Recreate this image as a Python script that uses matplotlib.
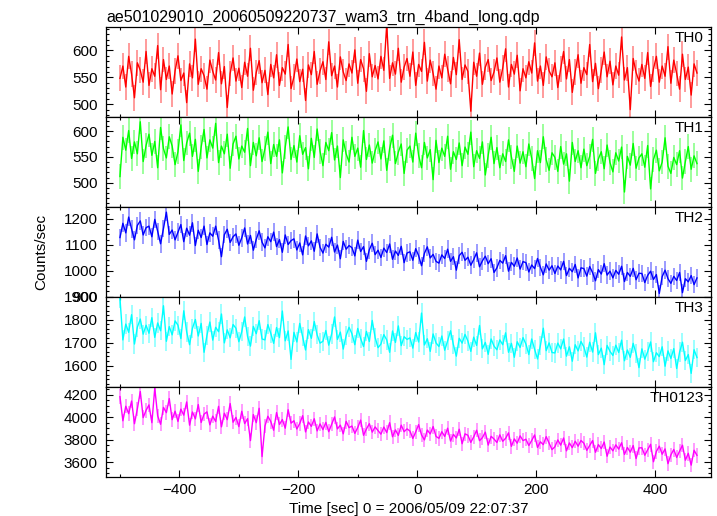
import numpy as np
import matplotlib
matplotlib.use("Agg")
import matplotlib.pyplot as plt
from matplotlib.ticker import MultipleLocator

plt.rcParams['font.family'] = ['Liberation Sans', 'DejaVu Sans']

title = "ae501029010_20060509220737_wam3_trn_4band_long.qdp"
xlabel = "Time [sec] 0 = 2006/05/09 22:07:37"
ylabel = "Counts/sec"
band_names = ["TH0", "TH1", "TH2", "TH3", "TH0123"]
band_colors = ["#ff0000", "#00ff00", "#0000ff", "#00ffff", "#ff00ff"]
band_errors = [24, 24, 34, 42, 64]   # typical 1-sigma error bar per band

# time bins
t_start = -500.0
t_step = 4.874
n_bins = 200

th0 = [
    548, 571, 532, 589, 556, 512, 577, 563, 541, 598,
    535, 566, 552, 609, 527, 583, 546, 571, 519, 562,
    590, 544, 558, 503, 575, 549, 621, 537, 566, 553,
    528, 582, 561, 545, 596, 538, 570, 494, 557, 586,
    543, 567, 531, 578, 552, 604, 526, 559, 581, 540,
    563, 518, 574, 549, 592, 535, 568, 556, 611, 529,
    551, 584, 542, 565, 507, 573, 555, 598, 537, 562,
    579, 546, 616, 553, 571, 532, 588, 560, 544, 575,
    558, 601, 539, 583, 566, 524, 594, 551, 572, 547,
    589, 563, 648, 548, 577, 556, 604, 541, 569, 585,
    552, 597, 535, 574, 561, 615, 543, 582, 557, 528,
    571, 549, 593, 566, 538, 587, 555, 620, 546, 573,
    561, 487, 578, 552, 595, 537, 569, 583, 544, 560,
    586, 541, 567, 603, 532, 574, 556, 591, 525, 566,
    549, 579, 558, 614, 543, 571, 535, 588, 562, 551,
    577, 531, 566, 598, 547, 583, 522, 560, 592, 539,
    568, 555, 611, 542, 576, 529, 563, 597, 551, 580,
    536, 571, 554, 625, 545, 568, 490, 585, 559, 543,
    574, 548, 596, 533, 566, 589, 541, 571, 552, 607,
    539, 582, 557, 528, 593, 546, 569, 517, 575, 558,
]

th1 = [
    512, 588, 563, 601, 547, 579, 556, 618, 541, 572,
    594, 553, 580, 529, 607, 566, 548, 589, 571, 535,
    560, 612, 543, 577, 596, 551, 584, 522, 569, 603,
    548, 583, 567, 615, 539, 571, 556, 594, 528, 575,
    590, 546, 571, 559, 605, 533, 578, 552, 587, 541,
    566, 598, 537, 574, 551, 583, 519, 569, 608, 545,
    572, 540, 591, 555, 568, 527, 586, 549, 604, 561,
    533, 578, 562, 597, 544, 571, 510, 583, 556, 540,
    588, 551, 567, 530, 601, 545, 573, 538, 562, 579,
    546, 581, 524, 566, 592, 537, 559, 575, 518, 563,
    571, 540, 596, 553, 529, 578, 548, 564, 506, 582,
    539, 567, 551, 590, 526, 560, 545, 577, 533, 569,
    555, 598, 531, 562, 547, 579, 515, 553, 588, 537,
    568, 529, 556, 541, 583, 550, 522, 571, 538, 560,
    531, 575, 547, 508, 562, 539, 589, 545, 524, 558,
    549, 522, 570, 536, 556, 503, 578, 541, 562, 529,
    565, 533, 551, 584, 518, 546, 560, 527, 573, 539,
    521, 558, 542, 569, 482, 551, 534, 576, 528, 548,
    556, 530, 572, 488, 545, 563, 523, 540, 587, 532,
    518, 549, 535, 562, 509, 541, 570, 526, 552, 537,
]

th2 = [
    1128, 1183, 1146, 1207, 1161, 1119, 1175, 1192, 1138, 1166,
    1172, 1131, 1198, 1152, 1104, 1163, 1226, 1140, 1157, 1119,
    1149, 1178, 1112, 1164, 1137, 1185, 1097, 1156, 1128, 1172,
    1101, 1146, 1133, 1172, 1118, 1054, 1139, 1160, 1109, 1131,
    1142, 1098, 1127, 1165, 1103, 1136, 1079, 1121, 1154, 1110,
    1088, 1131, 1112, 1149, 1093, 1120, 1071, 1138, 1101, 1116,
    1123, 1080, 1107, 1061, 1134, 1096, 1115, 1075, 1142, 1090,
    1068, 1102, 1091, 1129, 1072, 1099, 1046, 1113, 1083, 1097,
    1089, 1057, 1118, 1074, 1093, 1036, 1081, 1106, 1062, 1079,
    1051, 1087, 1070, 1103, 1044, 1076, 1059, 1094, 1031, 1068,
    1073, 1040, 1085, 1058, 1019, 1067, 1092, 1049, 1063, 1036,
    1029, 1061, 1047, 1083, 1036, 1054, 1002, 1058, 1071, 1040,
    1052, 1021, 1043, 1069, 1015, 1038, 1056, 1027, 1046, 993,
    1011, 1040, 1029, 1058, 998, 1032, 1017, 1049, 1006, 1035,
    1031, 995, 1022, 1008, 1047, 1013, 984, 1026, 1002, 1019,
    989, 1018, 1003, 1036, 981, 1009, 996, 1024, 972, 1011,
    1008, 979, 1016, 992, 961, 1004, 987, 1027, 983, 998,
    972, 1001, 986, 1017, 958, 993, 978, 1009, 965, 990,
    989, 954, 982, 998, 966, 985, 912, 977, 1002, 969,
    951, 978, 962, 993, 915, 969, 957, 981, 946, 972,
]

th3 = [
    1893, 1712, 1781, 1745, 1822, 1694, 1768, 1803, 1737, 1776,
    1741, 1809, 1723, 1786, 1752, 1861, 1706, 1770, 1734, 1795,
    1776, 1718, 1839, 1747, 1691, 1763, 1801, 1729, 1784, 1658,
    1732, 1790, 1711, 1767, 1748, 1825, 1699, 1756, 1721, 1779,
    1763, 1704, 1748, 1812, 1727, 1685, 1771, 1739, 1796, 1716,
    1712, 1779, 1741, 1697, 1766, 1722, 1838, 1708, 1751, 1627,
    1745, 1703, 1784, 1726, 1668, 1757, 1719, 1792, 1734, 1698,
    1706, 1753, 1689, 1738, 1812, 1714, 1746, 1672, 1731, 1767,
    1739, 1691, 1762, 1718, 1683, 1749, 1705, 1797, 1722, 1678,
    1694, 1735, 1712, 1658, 1751, 1701, 1773, 1687, 1726, 1714,
    1721, 1676, 1744, 1703, 1829, 1690, 1717, 1662, 1738, 1699,
    1683, 1729, 1667, 1708, 1752, 1691, 1641, 1719, 1698, 1736,
    1707, 1662, 1724, 1688, 1775, 1673, 1701, 1649, 1716, 1685,
    1669, 1712, 1691, 1743, 1658, 1697, 1636, 1704, 1679, 1722,
    1694, 1648, 1716, 1671, 1629, 1688, 1763, 1665, 1699, 1657,
    1655, 1698, 1673, 1716, 1641, 1682, 1619, 1691, 1664, 1705,
    1681, 1637, 1702, 1659, 1743, 1648, 1676, 1604, 1688, 1662,
    1644, 1689, 1657, 1711, 1621, 1668, 1636, 1697, 1652, 1591,
    1673, 1628, 1661, 1703, 1617, 1656, 1639, 1682, 1597, 1664,
    1631, 1674, 1587, 1659, 1702, 1622, 1648, 1566, 1669, 1635,
]

th0123 = [
    4182, 3968, 4097, 4031, 4143, 3942, 4075, 4228, 3996, 4061,
    4109, 3951, 4258, 4012, 3937, 4087, 4040, 4165, 3978, 4053,
    3962, 4071, 4018, 4135, 3929, 4046, 3985, 4112, 3953, 4027,
    4047, 3932, 4009, 3961, 4096, 3914, 4035, 3978, 4121, 3955,
    3998, 3916, 4052, 3943, 3987, 3792, 4023, 3951, 4079, 3650,
    3921, 4008, 3962, 3884, 4041, 3935, 3979, 3902, 4066, 3947,
    3968, 3895, 3944, 4013, 3869, 3957, 3918, 3986, 3878, 3940,
    3889, 3954, 3871, 3937, 4002, 3896, 3929, 3852, 3963, 3907,
    3921, 3856, 3908, 3974, 3839, 3895, 3942, 3867, 3913, 3881,
    3849, 3912, 3863, 3951, 3826, 3887, 3838, 3929, 3871, 3896,
    3877, 3811, 3869, 3934, 3842, 3798, 3886, 3851, 3917, 3829,
    3812, 3871, 3829, 3902, 3788, 3847, 3815, 3893, 3764, 3852,
    3839, 3776, 3825, 3884, 3791, 3818, 3867, 3752, 3830, 3806,
    3775, 3843, 3786, 3812, 3861, 3741, 3807, 3769, 3834, 3792,
    3804, 3748, 3793, 3842, 3731, 3781, 3756, 3827, 3769, 3712,
    3737, 3798, 3752, 3815, 3701, 3771, 3729, 3786, 3742, 3793,
    3768, 3705, 3749, 3792, 3688, 3756, 3721, 3779, 3653, 3735,
    3701, 3754, 3716, 3773, 3669, 3731, 3689, 3748, 3632, 3727,
    3728, 3662, 3711, 3759, 3604, 3696, 3742, 3671, 3718, 3587,
    3665, 3713, 3642, 3698, 3751, 3618, 3679, 3574, 3706, 3661,
]

series = [th0, th1, th2, th3, th0123]
ylims = [(476, 643), (453, 627), (899, 1246), (1508, 1900), (3473, 4271)]
ymajor = [50, 50, 100, 100, 200]
yminor = [10, 10, 20, 20, 50]
xlim = (-523.5, 493.5)

time = t_start + t_step * np.arange(n_bins)

W, H = 717, 516
fig = plt.figure(figsize=(W / 100, H / 100), dpi=100)
left, right = 106 / W, 711 / W
top, bottom = 1 - 27.3 / H, 1 - 476.5 / H
gs = fig.add_gridspec(5, 1, left=left, right=right, top=top, bottom=bottom, hspace=0)

axes = []
for i in range(5):
    ax = fig.add_subplot(gs[i, 0])
    ax.errorbar(time, series[i], yerr=band_errors[i], fmt='none',
                ecolor=band_colors[i], elinewidth=1.1, alpha=0.5, capsize=0)
    ax.plot(time, series[i], color=band_colors[i], lw=1.0)
    ax.set_xlim(*xlim)
    ax.set_ylim(*ylims[i])
    ax.xaxis.set_major_locator(MultipleLocator(200))
    ax.xaxis.set_minor_locator(MultipleLocator(100))
    ax.yaxis.set_major_locator(MultipleLocator(ymajor[i]))
    ax.yaxis.set_minor_locator(MultipleLocator(yminor[i]))
    ax.tick_params(which='both', direction='in', top=True, right=True,
                   labelsize=11, width=0.8)
    ax.tick_params(which='major', length=5)
    ax.tick_params(which='minor', length=2.5)
    ax.tick_params(axis='y', pad=6)
    ax.tick_params(axis='x', pad=5)
    for sp in ax.spines.values():
        sp.set_linewidth(0.9)
    if i < 4:
        ax.tick_params(labelbottom=False)
    ax.text(0.988, 0.955, band_names[i], transform=ax.transAxes,
            ha='right', va='top', fontsize=11)
    axes.append(ax)

fig.text(106 / W, 1 - 22 / H, title, ha='left', va='baseline', fontsize=11.5)
fig.text(409 / W, 1 - 509 / H, xlabel, ha='center', va='center', fontsize=11)
fig.text(41 / W, 1 - 252 / H, ylabel, ha='center', va='center',
         rotation=90, fontsize=11)

fig.savefig("out.png", dpi=100)
